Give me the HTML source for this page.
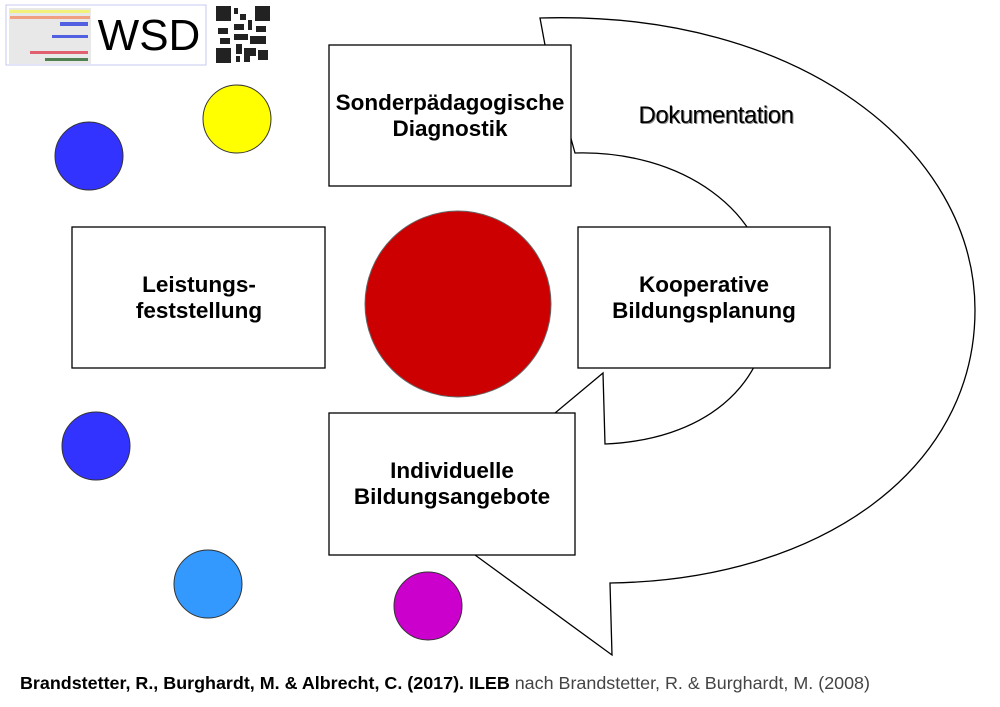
<!DOCTYPE html>
<html><head><meta charset="utf-8"><style>
body{margin:0;width:1000px;height:707px;background:#fff;overflow:hidden;font-family:"Liberation Sans",sans-serif}
</style></head><body>
<svg width="1000" height="707" xmlns="http://www.w3.org/2000/svg" style="position:absolute;left:0;top:0">
<rect x="6" y="5" width="200" height="60" fill="#fff" stroke="#c8c8f0"/>
<rect x="9" y="8" width="82" height="56" fill="#e8e8e8"/>
<rect x="10" y="10" width="80" height="3" fill="#f2f27a"/>
<rect x="10" y="16" width="80" height="3" fill="#f0a080"/>
<rect x="60" y="22" width="28" height="4" fill="#5060e0"/>
<rect x="52" y="35" width="36" height="3" fill="#5060e0"/>
<rect x="30" y="51" width="58" height="3" fill="#e06070"/>
<rect x="45" y="58" width="43" height="3" fill="#508050"/>
<text x="149" y="50" font-size="44" text-anchor="middle" font-family="Liberation Sans">WSD</text>
<rect x="216" y="6" width="54" height="57" fill="#fff"/>
<g fill="#222">
<rect x="216" y="6" width="15" height="15"/><rect x="255" y="6" width="15" height="15"/><rect x="216" y="48" width="15" height="15"/>
<rect x="234" y="8" width="4" height="6"/><rect x="240" y="14" width="6" height="6"/><rect x="234" y="24" width="10" height="6"/><rect x="248" y="20" width="4" height="10"/><rect x="256" y="26" width="10" height="6"/><rect x="218" y="28" width="10" height="6"/><rect x="234" y="34" width="14" height="6"/><rect x="250" y="36" width="16" height="8"/><rect x="236" y="44" width="6" height="10"/><rect x="244" y="48" width="12" height="8"/><rect x="258" y="50" width="10" height="10"/><rect x="220" y="38" width="10" height="6"/><rect x="244" y="56" width="6" height="6"/><rect x="236" y="56" width="4" height="6"/>
</g>
<path d="M540,18 C800,10 975,150 975,310 C975,470 820,580 610,583 L612,655 L475,555 L555,413 L603,373 L605,444 C700,440 770,390 770,300 C770,210 680,150 575,153 L545,45 Z" fill="#fff" stroke="#000" stroke-width="1.3"/>
<text x="717" y="124" font-size="24" text-anchor="middle" fill="#888" letter-spacing="-0.5">Dokumentation</text>
<text x="716" y="123" font-size="24" text-anchor="middle" fill="#000" letter-spacing="-0.5">Dokumentation</text>
<circle cx="458" cy="304" r="93" fill="#cc0000" stroke="#666"/>
<circle cx="237" cy="119" r="34" fill="#ffff00" stroke="#333"/>
<circle cx="89" cy="156" r="34" fill="#3333ff" stroke="#333"/>
<circle cx="96" cy="446" r="34" fill="#3333ff" stroke="#333"/>
<circle cx="208" cy="584" r="34" fill="#3399ff" stroke="#333"/>
<circle cx="428" cy="606" r="34" fill="#cc00cc" stroke="#333"/>
<g fill="#fff" stroke="#000" stroke-width="1.3">
<rect x="329" y="45" width="242" height="141"/>
<rect x="72" y="227" width="253" height="141"/>
<rect x="578" y="227" width="252" height="141"/>
<rect x="329" y="413" width="246" height="142"/>
</g>
<g font-size="22.5" font-weight="bold" text-anchor="middle">
<text x="450" y="110">Sonderpädagogische</text><text x="450" y="136">Diagnostik</text>
<text x="199" y="292">Leistungs-</text><text x="199" y="318">feststellung</text>
<text x="704" y="292">Kooperative</text><text x="704" y="318">Bildungsplanung</text>
<text x="452" y="478">Individuelle</text><text x="452" y="504">Bildungsangebote</text>
</g>
<text x="20" y="689" font-size="17.5" textLength="850" lengthAdjust="spacingAndGlyphs"><tspan font-weight="bold">Brandstetter, R., Burghardt, M. &amp; Albrecht, C. (2017). ILEB</tspan><tspan fill="#444"> nach Brandstetter, R. &amp; Burghardt, M. (2008)</tspan></text>
</svg>
</body></html>
